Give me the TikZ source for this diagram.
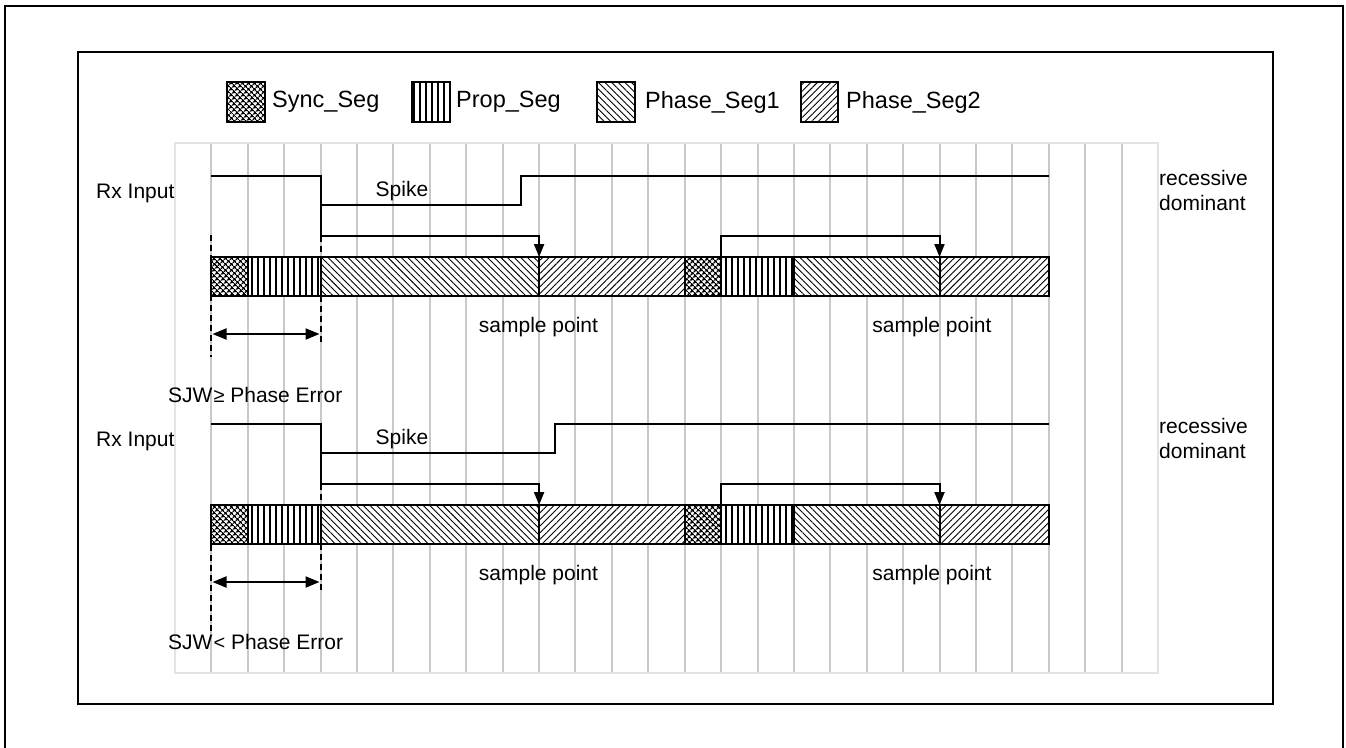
\documentclass[tikz,border=0pt]{standalone}
\usepackage{fontspec}
\setmainfont{Liberation Sans}
\usetikzlibrary{patterns.meta,arrows.meta}
\definecolor{gridgray}{HTML}{C8C8C8}
\definecolor{gridframe}{HTML}{E4E4E4}
\begin{document}
\begin{tikzpicture}[x=1pt,y=-1pt,
  lbl/.style={font=\fontsize{21}{24}\selectfont, inner sep=0pt},
  leg/.style={font=\fontsize{23.5}{26}\selectfont, inner sep=0pt, anchor=west},
  frame/.style={line width=2.4pt},
  sig/.style={line width=2pt},
  gridln/.style={line width=2pt, draw=gridgray},
  seg/.style={draw, line width=2pt, preaction={fill=white}},
  syncseg/.style={seg, pattern={Hatch[angle=45,distance=4pt,line width=1.4pt]}},
  propseg/.style={seg, pattern={Lines[angle=90,distance=6pt,line width=1.2pt]}},
  phaseone/.style={seg, pattern={Lines[angle=-45,distance=4.7pt,line width=0.9pt]}},
  phasetwo/.style={seg, pattern={Lines[angle=45,distance=4.7pt,line width=0.9pt]}},
  dashln/.style={line width=2pt, dash pattern=on 6pt off 4pt},
  tipdown/.style={-{Triangle[length=13pt,width=10pt]}},
  dbl/.style={{Triangle[length=14pt,width=11pt]}-{Triangle[length=14pt,width=11pt]}, line width=2pt},
]
\useasboundingbox (0,0) rectangle (1346,747);
% frames
\draw[frame] (5,760) -- (5,6) -- (1343,6) -- (1343,760);
\draw[frame] (78,52) rectangle (1273,704);
% legend
\path[syncseg] (227,82) rectangle (265,122);
\node[leg] (lsync) at (272,102) {Sync\_Seg};
\path[propseg] (412,82) rectangle (450,122);
\node[leg] (lprop) at (456,102) {Prop\_Seg};
\path[phaseone] (597,82) rectangle (635,122);
\node[leg] (lph1) at (645,102) {Phase\_Seg1};
\path[phasetwo] (801,82) rectangle (838,122);
\node[leg] (lph2) at (846,102) {Phase\_Seg2};
% grid
\draw[line width=2pt, draw=gridframe] (175,143) rectangle (1158,673);
\foreach \k in {1,...,26} {
  \draw[gridln] ({175+36.407*\k},144) -- ({175+36.407*\k},672);
}
% two diagrams
\foreach \dy/\spk/\nm in {0/521/a, 248/555/b} {
\begin{scope}[shift={(0,\dy)}]
  \coordinate (s0\nm) at (211.4,176);
  \coordinate (s1\nm) at (320.6,176);
  \coordinate (s2\nm) at (320.6,205);
  \coordinate (s3\nm) at (\spk,205);
  \coordinate (s4\nm) at (\spk,176);
  \coordinate (s5\nm) at (1048.8,176);
  \coordinate (a0\nm) at (320.6,236);
  \coordinate (a1\nm) at (539.1,236);
  \coordinate (a2\nm) at (539.1,257);
  \coordinate (b0\nm) at (721.1,257);
  \coordinate (b1\nm) at (721.1,236);
  \coordinate (b2\nm) at (939.5,236);
  \coordinate (b3\nm) at (939.5,257);
  \draw[sig] (s0\nm) -- (s1\nm) -- (s2\nm) -- (s3\nm) -- (s4\nm) -- (s5\nm);
  \draw[sig,tipdown] (s2\nm) -- (a0\nm) -- (a1\nm) -- (a2\nm);
  \draw[sig,tipdown] (b0\nm) -- (b1\nm) -- (b2\nm) -- (b3\nm);
  % bit segments
  \path[syncseg] (211.4,257) rectangle (247.8,296);
  \path[propseg] (247.8,257) rectangle (320.6,296);
  \path[phaseone] (320.6,257) rectangle (539.1,296);
  \path[phasetwo] (539.1,257) rectangle (684.7,296);
  \path[syncseg] (684.7,257) rectangle (721.1,296);
  \path[propseg] (721.1,257) rectangle (793.9,296);
  \path[phaseone] (793.9,257) rectangle (939.5,296);
  \path[phasetwo] (939.5,257) rectangle (1048.8,296);
  % labels
  \node[lbl, anchor=west] (rx\nm) at (96,193) {Rx Input};
  \node[lbl] (spike\nm) at (402,191) {Spike};
  \node[lbl, anchor=west] (rec\nm) at (1159,178) {recessive};
  \node[lbl, anchor=west] (dom\nm) at (1159,203) {dominant};
  \node[lbl] (sp1\nm) at (538.5,327.5) {sample point};
  \node[lbl] (sp2\nm) at (932,327.5) {sample point};
\end{scope}
}
% SJW markers, upper diagram
\coordinate (la1) at (211.4,235);
\coordinate (la2) at (211.4,357);
\coordinate (ra2) at (320.6,345);
\draw[dashln] (la1) -- (la2);
\draw[dashln] (a0a) -- (ra2);
\coordinate (da1) at (212.5,334);
\coordinate (da2) at (319.5,334);
\draw[dbl] (da1) -- (da2);
\node[lbl, anchor=west] (sjwa) at (168,395) {SJW\kern1pt{\fontsize{20}{20}\selectfont ≥} Phase Error};
% SJW markers, lower diagram
\coordinate (lb1) at (211.4,545);
\coordinate (lb2) at (211.4,633);
\coordinate (rb2) at (320.6,593);
\draw[dashln] (lb1) -- (lb2);
\draw[dashln] (a0b) -- (rb2);
\coordinate (db1) at (212.5,582);
\coordinate (db2) at (319.5,582);
\draw[dbl] (db1) -- (db2);
\node[lbl, anchor=west] (sjwb) at (168,642) {SJW\kern1pt{\fontsize{20}{20}\selectfont <} Phase Error};
\end{tikzpicture}
\end{document}
